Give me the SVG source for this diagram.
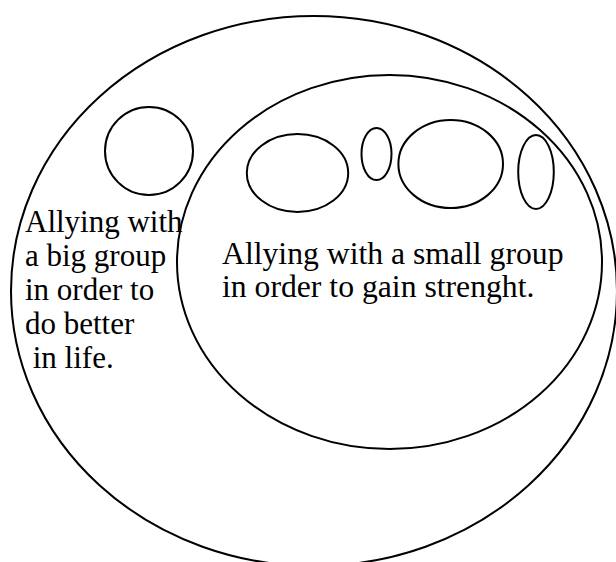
<svg xmlns="http://www.w3.org/2000/svg" width="616" height="562" viewBox="0 0 616 562">
<style>
.s{fill:none;stroke:#000;stroke-width:2}
.t{font-family:"Liberation Serif","Times New Roman",serif;font-size:31px;fill:#000}
#label-small .t{font-size:31.7px}
</style>
<rect width="616" height="562" fill="#fff"/>
<g id="outer"><ellipse class="s" cx="314" cy="291" rx="303" ry="275"/></g>
<g id="inner"><ellipse class="s" cx="389.5" cy="262" rx="212.5" ry="187"/></g>
<g id="big-group"><ellipse class="s" cx="149" cy="151" rx="44" ry="44"/></g>
<g id="small-1"><ellipse class="s" cx="297.5" cy="173" rx="50.7" ry="39"/></g>
<g id="small-2"><ellipse class="s" cx="376.5" cy="154" rx="15" ry="26"/></g>
<g id="small-3"><ellipse class="s" cx="450.7" cy="164" rx="52.3" ry="44"/></g>
<g id="small-4"><ellipse class="s" cx="536" cy="172" rx="17.8" ry="37"/></g>
<g id="label-big">
<text class="t" x="25" y="232">Allying with</text>
<text class="t" x="25" y="266">a big group</text>
<text class="t" x="25" y="300">in order to</text>
<text class="t" x="25" y="334">do better</text>
<text class="t" x="25" y="368" xml:space="preserve"> in life.</text>
</g>
<g id="label-small">
<text class="t" x="222" y="264">Allying with a small group</text>
<text class="t" x="222" y="297">in order to gain strenght.</text>
</g>
<g id="connectors"/>
</svg>
